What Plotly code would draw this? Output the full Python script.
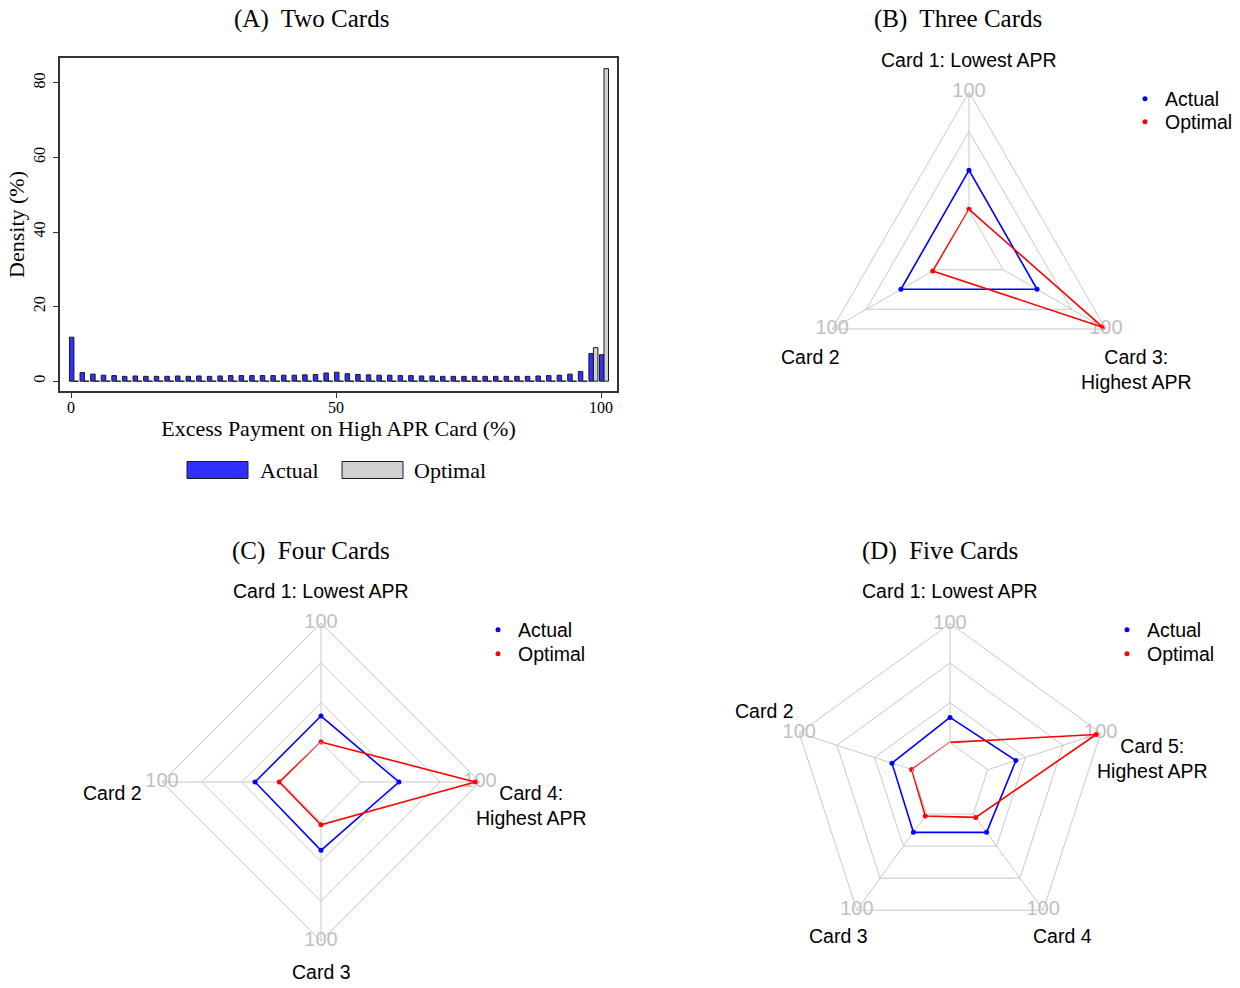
import plotly.graph_objects as go

W, H = 1240, 988

# ---------------- data ----------------
hist_bins = list(range(0, 101, 2))
hist_actual = [11.8, 2.3, 1.9, 1.6, 1.5, 1.3, 1.4, 1.3, 1.3, 1.3,
               1.4, 1.3, 1.4, 1.3, 1.4, 1.5, 1.5, 1.5, 1.5, 1.5,
               1.6, 1.6, 1.7, 1.8, 2.2, 2.4, 2.0, 1.8, 1.7, 1.6,
               1.6, 1.5, 1.5, 1.4, 1.4, 1.3, 1.3, 1.3, 1.3, 1.3,
               1.3, 1.3, 1.3, 1.3, 1.4, 1.5, 1.6, 1.9, 2.6, 7.4,
               7.1]
hist_optimal = [0, 0, 0, 0, 0, 0, 0, 0, 0, 0,
                0, 0, 0, 0, 0, 0, 0, 0, 0, 0,
                0, 0, 0, 0, 0, 0, 0, 0, 0, 0,
                0, 0, 0, 0, 0, 0, 0, 0, 0, 0,
                0, 0, 0, 0, 0, 0, 0, 0, 0, 9.0,
                83.8]
hist_ticks = [0, 50, 100]
density_ticks = [0, 20, 40, 60, 80]

cards3 = ["Card 1", "Card 2", "Card 3"]
actual3 = [34, 33, 33]
optimal3 = [1, 2, 97]

cards4 = ["Card 1", "Card 2", "Card 3", "Card 4"]
actual4 = [22, 22, 24, 32]
optimal4 = [0.2, 1.6, 2.5, 96]

cards5 = ["Card 1", "Card 2", "Card 3", "Card 4", "Card 5"]
actual5 = [21, 18, 19, 19, 25]
optimal5 = [0, 0.6, 2, 3.5, 96]

radial_ticks = [0, 33.33, 66.67, 100]

# ---------------- helpers ----------------
def px(x):
    return x / W

def py(y):
    return 1 - y / H

SERIF = "Liberation Serif"
SANS = "Liberation Sans"
BLUE = "#0000ff"
RED = "#ff0000"
GRID = "#c8c8c8"
BAR_BLUE = "#3030ff"
BAR_GRAY = "#d0d0d0"
EDGE = "#1a1a1a"

fig = go.Figure()

# ---------------- Panel A: histogram ----------------
fig.add_trace(go.Bar(
    x=hist_bins, y=hist_actual, name="Actual",
    marker=dict(color=BAR_BLUE, line=dict(color=EDGE, width=1)),
    offset=-0.3, width=0.85, xaxis="x", yaxis="y", showlegend=False))
fig.add_trace(go.Bar(
    x=hist_bins, y=hist_optimal, name="Optimal",
    marker=dict(color=BAR_GRAY, line=dict(color=EDGE, width=1)),
    offset=0.55, width=0.85, xaxis="x", yaxis="y", showlegend=False))

# ---------------- Radar panels ----------------
def radar(cards, actual, optimal, polar, legends):
    n = len(cards)
    fig.add_trace(go.Scatterpolar(
        r=[100] * n, theta=cards, mode="text", text=["100"] * n,
        textfont=dict(family=SANS, size=20, color="#c0c0c0"),
        textposition="middle center", cliponaxis=False,
        showlegend=False, hoverinfo="skip", subplot=polar))
    for vals, col, name, leg in ((actual, BLUE, "Actual", legends[0]),
                                 (optimal, RED, "Optimal", legends[1])):
        fig.add_trace(go.Scatterpolar(
            r=vals + vals[:1], theta=cards + cards[:1], mode="lines",
            line=dict(color=col, width=1.6), cliponaxis=False,
            showlegend=False, hoverinfo="skip", subplot=polar))
        fig.add_trace(go.Scatterpolar(
            r=vals, theta=cards, mode="markers", name=name,
            marker=dict(color=col, size=5), cliponaxis=False,
            subplot=polar, legend=leg))

radar(cards3, actual3, optimal3, "polar", ("legend", "legend2"))
radar(cards4, actual4, optimal4, "polar2", ("legend3", "legend4"))
radar(cards5, actual5, optimal5, "polar3", ("legend5", "legend6"))

def polar_layout(cx, cy, R):
    return dict(
        domain=dict(x=[px(cx - R), px(cx + R)], y=[py(cy + R), py(cy - R)]),
        hole=0.25, gridshape="linear", bgcolor="white",
        radialaxis=dict(range=[0, 100], tickvals=radial_ticks, showticklabels=False,
                        ticks="", showline=False, gridcolor=GRID, gridwidth=1),
        angularaxis=dict(rotation=90, direction="counterclockwise", showticklabels=False,
                         ticks="", showline=True, linecolor=GRID, linewidth=1,
                         gridcolor=GRID, gridwidth=1),
    )

def legend_layout(x, y):
    return dict(x=px(x), y=py(y), xanchor="left", yanchor="middle",
                font=dict(family=SANS, size=19.5, color="black"),
                bgcolor="rgba(0,0,0,0)", itemsizing="trace")

axis_common = dict(showline=True, mirror=True, linecolor="#333333", linewidth=1.5,
                   showgrid=False, zeroline=False, ticks="outside", ticklen=5,
                   tickcolor="#333333", tickfont=dict(family=SERIF, size=16, color="black"))

annotations = []
def label(text, x, y, size=19.5, family=SANS, xanchor="center"):
    annotations.append(dict(text=text, x=px(x), y=py(y), xref="paper", yref="paper",
                            xanchor=xanchor, yanchor="middle", showarrow=False,
                            font=dict(family=family, size=size, color="black")))

# Panel titles
label("(A)\u00a0 Two Cards", 311, 19, 25, SERIF)
label("(B)\u00a0 Three Cards", 958, 19, 25, SERIF)
label("(C)\u00a0 Four Cards", 311, 551, 25, SERIF)
label("(D)\u00a0 Five Cards", 940, 551, 25, SERIF)

# Radar category labels
label("Card 1: Lowest APR", 969, 60)
label("Card 2", 810, 357)
label("Card 3:<br>Highest APR", 1136, 369)

label("Card 1: Lowest APR", 321, 591)
label("Card 2", 112, 793)
label("Card 4:<br>Highest APR", 531, 805)
label("Card 3", 321, 972)

label("Card 1: Lowest APR", 950, 591)
label("Card 2", 764, 711)
label("Card 5:<br>Highest APR", 1152, 758)
label("Card 3", 838, 936)
label("Card 4", 1062, 936)

# Histogram legend (key boxes + text)
shapes = [
    dict(type="rect", xref="paper", yref="paper", x0=px(187), x1=px(248),
         y0=py(478.5), y1=py(461.5), fillcolor=BAR_BLUE, line=dict(color=EDGE, width=1)),
    dict(type="rect", xref="paper", yref="paper", x0=px(342), x1=px(403),
         y0=py(478.5), y1=py(461.5), fillcolor=BAR_GRAY, line=dict(color=EDGE, width=1)),
]
label("Actual", 258, 470, 22, SERIF, "left")
label("Optimal", 412, 470, 22, SERIF, "left")

fig.update_layout(
    width=W, height=H, margin=dict(l=0, r=0, t=0, b=0),
    paper_bgcolor="white", plot_bgcolor="white",
    barmode="overlay", showlegend=True,
    xaxis=dict(domain=[px(60), px(617)], range=[-2.08, 103.0], tickvals=hist_ticks,
               ticklabelstandoff=-4,
               title=dict(text="Excess Payment on High APR Card (%)",
                          font=dict(family=SERIF, size=22, color="black"), standoff=4),
               **axis_common),
    yaxis=dict(domain=[py(391), py(58)], range=[-2.63, 86.65], tickvals=density_ticks,
               tickangle=-90, ticklabelstandoff=2,
               title=dict(text="Density (%)", font=dict(family=SERIF, size=22, color="black"),
                          standoff=0),
               **axis_common),
    polar=polar_layout(969, 250, 158),
    polar2=polar_layout(321, 782, 159),
    polar3=polar_layout(950, 782, 158.5),
    legend=legend_layout(1125, 99),
    legend2=legend_layout(1125, 122),
    legend3=legend_layout(478, 630),
    legend4=legend_layout(478, 654),
    legend5=legend_layout(1107, 630),
    legend6=legend_layout(1107, 654),
    annotations=annotations,
    shapes=shapes,
)

fig.write_html("out.html", config={"displayModeBar": False},
               post_script="document.body.style.margin='0';")
